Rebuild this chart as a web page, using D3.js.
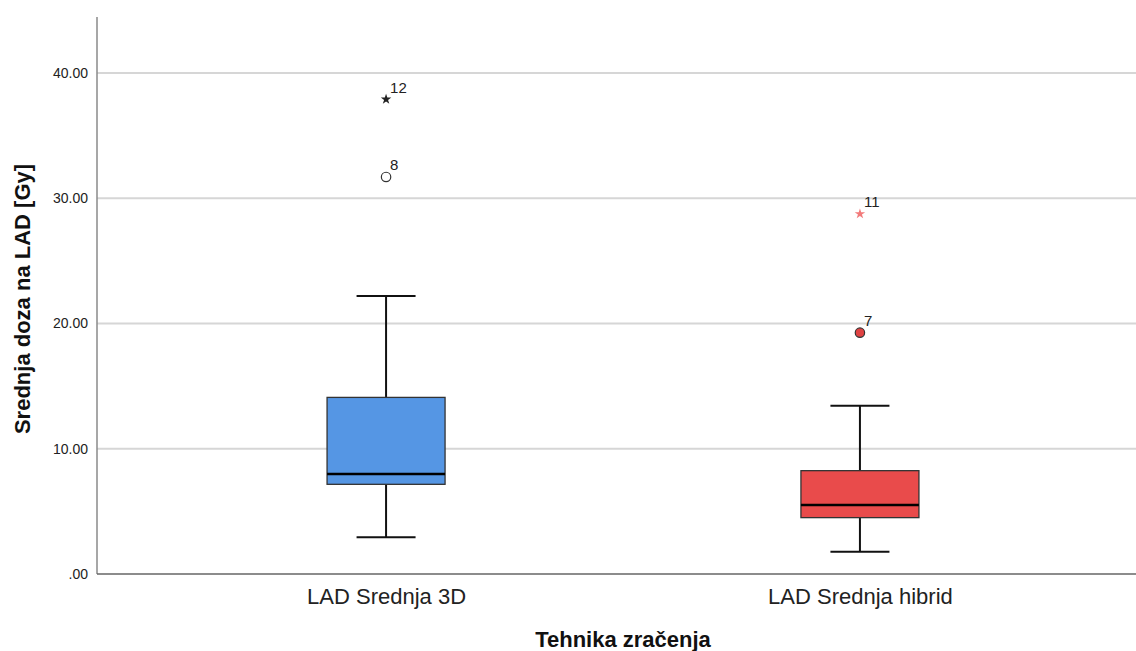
<!DOCTYPE html>
<html>
<head>
<meta charset="utf-8">
<script src="https://cdn.jsdelivr.net/npm/d3@7/dist/d3.min.js"></script>
<style>
  html, body { margin: 0; padding: 0; background: #fff; }
  svg { display: block; font-family: "Liberation Sans", Arial, sans-serif; }
</style>
</head>
<body>
<svg id="chart" width="1136" height="651"></svg>
<script>
// Box plot summaries for mean LAD dose per technique
const categories = ["LAD Srednja 3D", "LAD Srednja hibrid"];
const whiskerLow  = [2.93, 1.78];
const q1          = [7.16, 4.50];
const median      = [7.98, 5.51];
const q3          = [14.10, 8.25];
const whiskerHigh = [22.20, 13.44];
const boxColors   = ["#5596e4", "#e94b4b"];

// Outlying cases: group index, value, case label, marker kind
const outlierGroup = [0, 0, 1, 1];
const outlierValue = [37.9, 31.7, 28.75, 19.27];
const outlierLabel = ["12", "8", "11", "7"];
const outlierKind  = ["star", "circle", "star", "circle"];

const yTicks = [0, 10, 20, 30, 40];
const yTickLabels = [".00", "10.00", "20.00", "30.00", "40.00"];

const svg = d3.select("#chart");
const plotLeft = 97, plotBottom = 574, plotTop = 17, plotRight = 1136;

const y = d3.scaleLinear().domain([0, 44.47]).range([plotBottom, plotTop]);
const x = d3.scalePoint().domain(categories).range([plotLeft, 1149]).padding(0.61);

const boxW = 118, capW = 59;

// Gridlines
svg.append("g")
  .selectAll("line")
  .data(yTicks.filter(d => d > 0))
  .join("line")
  .attr("x1", plotLeft).attr("x2", plotRight)
  .attr("y1", d => y(d)).attr("y2", d => y(d))
  .attr("stroke", "#d6d6d6").attr("stroke-width", 2);

// Y axis (labels only, no tick marks)
const yAxis = d3.axisLeft(y).tickValues(yTicks)
  .tickFormat((d, i) => yTickLabels[i]).tickSize(0).tickPadding(9);
const gy = svg.append("g").attr("transform", `translate(${plotLeft},0)`).call(yAxis);
gy.select(".domain").remove();
gy.selectAll("text").attr("font-size", 14).attr("fill", "#222")
  .attr("font-family", "Liberation Sans, Arial, sans-serif");

svg.append("line").attr("x1", plotLeft).attr("x2", plotLeft).attr("y1", plotTop).attr("y2", plotBottom)
  .attr("stroke", "#8a8a8a").attr("stroke-width", 1.5);

// X axis
const xAxis = d3.axisBottom(x).tickSize(0).tickPadding(14);
const gx = svg.append("g").attr("transform", `translate(0,${plotBottom})`).call(xAxis);
gx.select(".domain").remove();
gx.selectAll("text").attr("font-size", 22).attr("fill", "#222")
  .attr("font-family", "Liberation Sans, Arial, sans-serif");
svg.append("line").attr("x1", plotLeft).attr("x2", plotRight).attr("y1", plotBottom).attr("y2", plotBottom)
  .attr("stroke", "#666").attr("stroke-width", 1.5);

// Boxes
const groups = svg.append("g").selectAll("g")
  .data(categories.map((c, i) => ({ c, i })))
  .join("g");

groups.append("line")
  .attr("x1", d => x(d.c)).attr("x2", d => x(d.c))
  .attr("y1", d => y(whiskerHigh[d.i])).attr("y2", d => y(q3[d.i]))
  .attr("stroke", "#111").attr("stroke-width", 2);
groups.append("line")
  .attr("x1", d => x(d.c)).attr("x2", d => x(d.c))
  .attr("y1", d => y(q1[d.i])).attr("y2", d => y(whiskerLow[d.i]))
  .attr("stroke", "#111").attr("stroke-width", 2);
groups.append("line")
  .attr("x1", d => x(d.c) - capW / 2).attr("x2", d => x(d.c) + capW / 2)
  .attr("y1", d => y(whiskerHigh[d.i])).attr("y2", d => y(whiskerHigh[d.i]))
  .attr("stroke", "#111").attr("stroke-width", 2);
groups.append("line")
  .attr("x1", d => x(d.c) - capW / 2).attr("x2", d => x(d.c) + capW / 2)
  .attr("y1", d => y(whiskerLow[d.i])).attr("y2", d => y(whiskerLow[d.i]))
  .attr("stroke", "#111").attr("stroke-width", 2);
groups.append("rect")
  .attr("x", d => x(d.c) - boxW / 2).attr("width", boxW)
  .attr("y", d => y(q3[d.i])).attr("height", d => y(q1[d.i]) - y(q3[d.i]))
  .attr("fill", d => boxColors[d.i]).attr("stroke", "#333").attr("stroke-width", 1.3);
groups.append("line")
  .attr("x1", d => x(d.c) - boxW / 2).attr("x2", d => x(d.c) + boxW / 2)
  .attr("y1", d => y(median[d.i])).attr("y2", d => y(median[d.i]))
  .attr("stroke", "#000").attr("stroke-width", 2.6);

// Outliers
const outliers = outlierValue.map((v, i) => ({
  g: outlierGroup[i], v, label: outlierLabel[i], kind: outlierKind[i]
}));
const star = d3.symbol().type(d3.symbolStar).size(34);
const og = svg.append("g").selectAll("g").data(outliers).join("g")
  .attr("transform", d => `translate(${x(categories[d.g])},${y(d.v)})`);

og.filter(d => d.kind === "star").append("path")
  .attr("d", star)
  .attr("fill", d => d.g === 0 ? "#222" : "#f27b7b");
og.filter(d => d.kind === "circle").append("circle")
  .attr("r", 4.7)
  .attr("fill", d => d.g === 0 ? "#fff" : "#e04343")
  .attr("stroke", "#333")
  .attr("stroke-width", 1.2);
og.append("text")
  .attr("x", 4).attr("y", -6.5)
  .attr("font-size", 15).attr("fill", "#222")
  .text(d => d.label);

// Axis titles
svg.append("text")
  .attr("x", 623).attr("y", 647)
  .attr("text-anchor", "middle").attr("font-size", 22).attr("font-weight", "bold")
  .attr("fill", "#111").text("Tehnika zračenja");
svg.append("text")
  .attr("transform", "translate(30,299) rotate(-90)")
  .attr("text-anchor", "middle").attr("font-size", 22).attr("font-weight", "bold")
  .attr("fill", "#111").text("Srednja doza na LAD [Gy]");
</script>
</body>
</html>
